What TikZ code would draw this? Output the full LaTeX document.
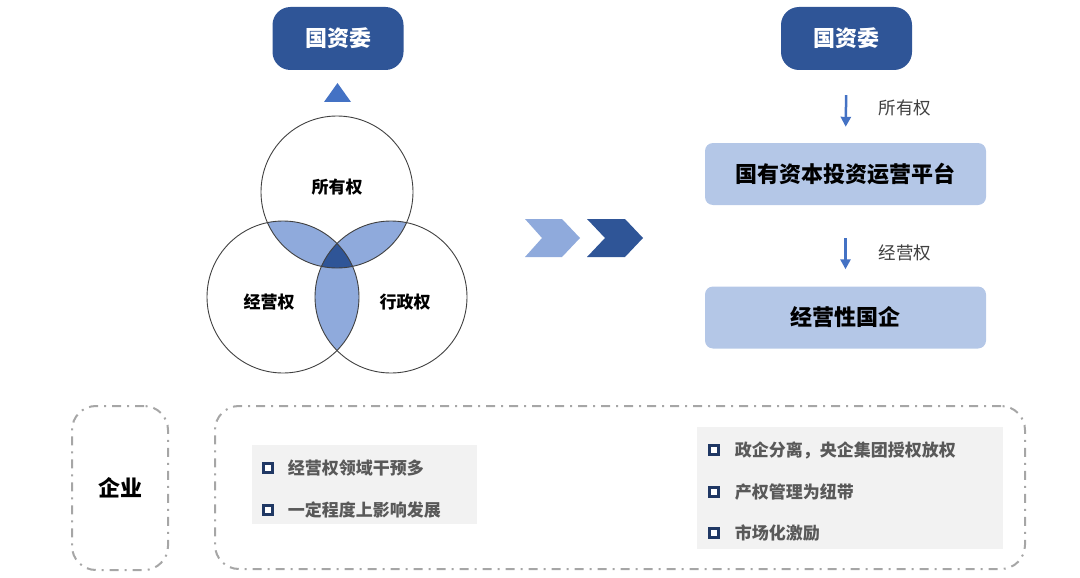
\documentclass[tikz,border=0pt]{standalone}
\usepackage{fontspec}
\setmainfont{Noto Sans CJK SC}
\usetikzlibrary{positioning,arrows.meta}
\definecolor{darkblue}{HTML}{2F5597}
\definecolor{midblue}{HTML}{4472C4}
\definecolor{lightblue}{HTML}{8FAADC}
\definecolor{paleblue}{HTML}{B4C7E7}
\definecolor{navy}{HTML}{203864}
\definecolor{textgray}{HTML}{595959}
\definecolor{labelgray}{HTML}{404040}
\definecolor{panelgray}{HTML}{F2F2F2}
\definecolor{dashgray}{HTML}{A6A6A6}
\begin{document}
\begin{tikzpicture}[x=1pt,y=-1pt,
    topbox/.style={rounded corners=18pt, fill=darkblue, text=white, font=\fontsize{22}{26}\selectfont\bfseries, minimum width=131pt, minimum height=63pt, inner sep=0pt},
    flatbox/.style={rounded corners=8pt, fill=paleblue, text=black, font=\fontsize{22}{26}\selectfont\bfseries, minimum width=281pt, minimum height=62pt, inner sep=0pt},
    ring/.style={circle, draw=labelgray, line width=0.9pt, minimum size=152pt, inner sep=0pt},
    vennlabel/.style={font=\fontsize{17}{20}\selectfont\bfseries, text=black},
    flowarrow/.style={draw=midblue, line width=2.5pt, -{Triangle[width=10pt,length=10pt]}},
    flowlabel/.style={font=\fontsize{17.5}{20}\selectfont, text=labelgray, anchor=west},
    dashbox/.style={draw=dashgray, line width=2pt, rounded corners=24pt, dash pattern=on 9pt off 6pt on 2pt off 6pt, inner sep=0pt},
    marker/.style={rectangle, draw=navy, fill=white, line width=2.5pt, minimum size=9pt, inner sep=0pt},
    itemtext/.style={font=\fontsize{17}{20}\selectfont\bfseries, text=textgray, inner sep=0pt}]
\useasboundingbox (0,0) rectangle (1080,578);

% left side
\node[topbox] (gzw1) at (338,38.5) {国资委};
\fill[midblue] (324,102) -- (351,102) -- (337.5,83) -- cycle;

\begin{scope}
  \clip (337,192) circle (76);
  \fill[lightblue] (283,297) circle (76);
  \fill[lightblue] (391,297) circle (76);
\end{scope}
\begin{scope}
  \clip (283,297) circle (76);
  \fill[lightblue] (391,297) circle (76);
\end{scope}
\begin{scope}
  \clip (337,192) circle (76);
  \clip (283,297) circle (76);
  \fill[darkblue] (391,297) circle (76);
\end{scope}

\node[ring] (own) at (337,192) {};
\node[ring] (run) at (283,297) {};
\node[ring] (adm) at (391,297) {};
\node[vennlabel] (ownlabel) at (337,187) {所有权};
\node[vennlabel] (runlabel) at (269,302) {经营权};
\node[vennlabel] (admlabel) at (405,302) {行政权};

% chevrons
\fill[lightblue] (525,219) -- (562,219) -- (580,238) -- (562,257) -- (525,257) -- (542,238) -- cycle;
\fill[darkblue] (587,219) -- (625,219) -- (643,238) -- (625,257) -- (587,257) -- (605,238) -- cycle;

% right side
\node[topbox] (gzw2) at (846.5,38.5) {国资委};
\node[flatbox] (platform) at (845.5,174) {国有资本投资运营平台};
\node[flatbox] (soe) at (845.5,317.5) {经营性国企};

\draw[flowarrow, shorten <=25pt, shorten >=16pt] (gzw2.south) -- (platform.north);
\draw[flowarrow, shorten <=33pt, shorten >=17pt] (platform.south) -- (soe.north);
\node[flowlabel] (ownflow) at (875,108) {所有权};
\node[flowlabel] (runflow) at (875,253) {经营权};

% bottom
\node[dashbox, minimum width=96pt, minimum height=164pt, font=\fontsize{22}{26}\selectfont\bfseries] (firm) at (120,488) {企业};
\node[dashbox, minimum width=810pt, minimum height=163pt] (frame) at (620,487.5) {};

\fill[panelgray] (252,445) rectangle (477,524);
\fill[panelgray] (697,427) rectangle (1003,549);

\node[marker] (m1) at (268,468) {};
\node[itemtext, right=14pt of m1] (t1) {经营权领域干预多};
\node[marker] (m2) at (268,510) {};
\node[itemtext, right=14pt of m2] (t2) {一定程度上影响发展};

\node[marker] (m3) at (714,450) {};
\node[itemtext, right=15pt of m3] (t3) {政企分离，央企集团授权放权};
\node[marker] (m4) at (714,492) {};
\node[itemtext, right=15pt of m4] (t4) {产权管理为纽带};
\node[marker] (m5) at (714,533) {};
\node[itemtext, right=15pt of m5] (t5) {市场化激励};
\end{tikzpicture}
\end{document}
